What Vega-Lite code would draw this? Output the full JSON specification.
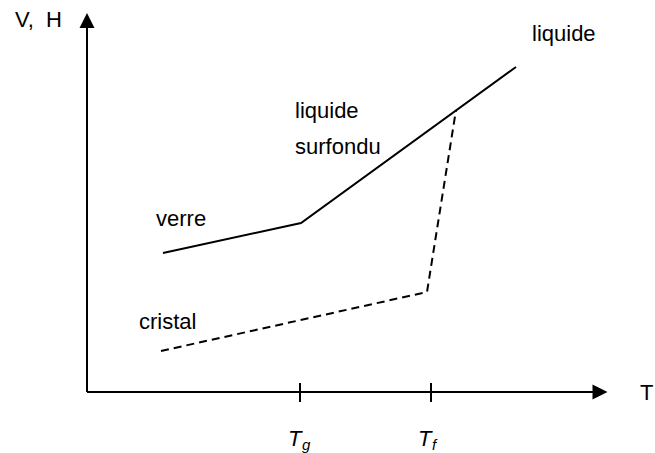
{
  "$schema": "https://vega.github.io/schema/vega-lite/v6.json",
  "width": 655,
  "height": 453,
  "autosize": {"type": "fit", "contains": "padding"},
  "padding": 0,
  "background": "white",
  "config": {"view": {"stroke": null}},
  "datasets": {
    "axes": [
      {"axis": "V", "x": 0, "y": 0, "x2": 0, "y2": 366},
      {"axis": "T", "x": 0, "y": 0, "x2": 508, "y2": 0}
    ],
    "arrows": [
      {"axis": "V", "x": 0, "y": 371.5, "shape": "M0,-1L1,1L-1,1Z"},
      {"axis": "T", "x": 513, "y": 0, "shape": "M1,0L-1,-1L-1,1Z"}
    ],
    "ticks": [
      {"name": "Tg", "x": 213, "y": -10, "y2": 9},
      {"name": "Tf", "x": 344, "y": -10, "y2": 9}
    ],
    "curves": [
      {"phase": "verre-liquide", "order": 1, "x": 76, "y": 139},
      {"phase": "verre-liquide", "order": 2, "x": 214, "y": 169},
      {"phase": "verre-liquide", "order": 3, "x": 429, "y": 325},
      {"phase": "cristal", "order": 1, "x": 74, "y": 41},
      {"phase": "cristal", "order": 2, "x": 340, "y": 100},
      {"phase": "cristal", "order": 3, "x": 369, "y": 282}
    ],
    "labels": [
      {"text": "V,\u00a0\u00a0H", "x": -72, "y": 365},
      {"text": "T", "x": 553, "y": -8},
      {"text": "liquide", "x": 445, "y": 351},
      {"text": "liquide", "x": 208, "y": 274},
      {"text": "surfondu", "x": 208, "y": 238},
      {"text": "verre", "x": 69, "y": 166},
      {"text": "cristal", "x": 52, "y": 63}
    ],
    "tlabels": [
      {"text": "T", "x": 201, "y": -54},
      {"text": "T", "x": 331, "y": -54}
    ],
    "subs": [
      {"text": "g", "x": 215, "y": -58},
      {"text": "f", "x": 345, "y": -58}
    ]
  },
  "encoding": {
    "x": {"field": "x", "type": "quantitative", "scale": {"domain": [-87, 568], "nice": false, "zero": false}, "axis": null},
    "y": {"field": "y", "type": "quantitative", "scale": {"domain": [-61, 392], "nice": false, "zero": false}, "axis": null}
  },
  "layer": [
    {
      "data": {"name": "axes"},
      "mark": {"type": "rule", "color": "black", "strokeWidth": 2},
      "encoding": {"x2": {"field": "x2"}, "y2": {"field": "y2"}}
    },
    {
      "data": {"name": "arrows"},
      "mark": {"type": "point", "filled": true, "color": "black", "opacity": 1, "size": 225, "strokeWidth": 0},
      "encoding": {"shape": {"field": "shape", "type": "nominal", "scale": null}}
    },
    {
      "data": {"name": "ticks"},
      "mark": {"type": "rule", "color": "black", "strokeWidth": 2},
      "encoding": {"y2": {"field": "y2"}}
    },
    {
      "data": {"name": "curves"},
      "transform": [{"filter": "datum.phase === 'verre-liquide'"}],
      "mark": {"type": "line", "color": "black", "strokeWidth": 2},
      "encoding": {"order": {"field": "order"}}
    },
    {
      "data": {"name": "curves"},
      "transform": [{"filter": "datum.phase === 'cristal'"}],
      "mark": {"type": "line", "color": "black", "strokeWidth": 2, "strokeDash": [8, 5]},
      "encoding": {"order": {"field": "order"}}
    },
    {
      "data": {"name": "labels"},
      "mark": {"type": "text", "align": "left", "baseline": "alphabetic", "font": "Liberation Sans", "fontSize": 22, "color": "black"},
      "encoding": {"text": {"field": "text"}}
    },
    {
      "data": {"name": "tlabels"},
      "mark": {"type": "text", "align": "left", "baseline": "alphabetic", "font": "Liberation Sans", "fontStyle": "italic", "fontSize": 22, "color": "black"},
      "encoding": {"text": {"field": "text"}}
    },
    {
      "data": {"name": "subs"},
      "mark": {"type": "text", "align": "left", "baseline": "alphabetic", "font": "Liberation Sans", "fontStyle": "italic", "fontSize": 15, "color": "black"},
      "encoding": {"text": {"field": "text"}}
    }
  ]
}
